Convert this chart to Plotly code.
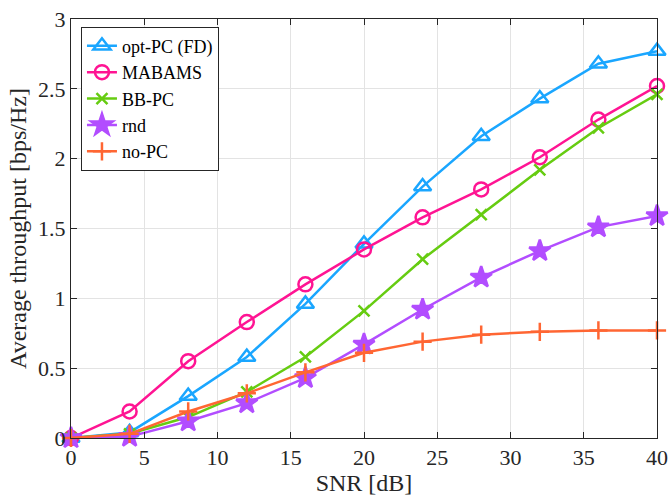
import plotly.graph_objects as go

snr = [0, 4, 8, 12, 16, 20, 24, 28, 32, 36, 40]
opt_pc = [0.0, 0.04, 0.30, 0.58, 0.96, 1.39, 1.80, 2.16, 2.43, 2.68, 2.77]
mabams = [0.0, 0.19, 0.55, 0.83, 1.10, 1.35, 1.58, 1.78, 2.01, 2.28, 2.52]
bb_pc = [0.0, 0.03, 0.15, 0.33, 0.58, 0.91, 1.28, 1.60, 1.92, 2.22, 2.46]
rnd = [0.0, 0.01, 0.12, 0.25, 0.43, 0.67, 0.92, 1.15, 1.34, 1.51, 1.59]
no_pc = [0.0, 0.03, 0.19, 0.32, 0.47, 0.61, 0.69, 0.74, 0.76, 0.77, 0.77]

series = [
    ("opt-PC (FD)", opt_pc, "#1AA6FF", "triangle-up-open", 15),
    ("MABAMS", mabams, "#FF1493", "circle-open", 14),
    ("BB-PC", bb_pc, "#66CC11", "x-thin-open", 11),
    ("rnd", rnd, "#B24DFF", "star", 16),
    ("no-PC", no_pc, "#FF6633", "cross-thin-open", 13),
]

fig = go.Figure()
for name, vals, color, sym, sz in series:
    fig.add_trace(go.Scatter(
        x=snr, y=vals, name=name, mode="lines+markers",
        line=dict(color=color, width=2.5),
        marker=dict(symbol=sym, size=sz, color=color,
                    line=dict(color=color, width=2.5)),
        cliponaxis=False,
    ))

axis_common = dict(
    showline=True, linecolor="#262626", linewidth=1, mirror="ticks",
    ticks="inside", ticklen=6, tickcolor="#262626",
    showgrid=True, gridcolor="#E3E3E3", gridwidth=1,
    zeroline=False, automargin=False,
    tickfont=dict(family="Liberation Serif", size=22, color="#262626"),
    title_font=dict(family="Liberation Serif", size=24, color="#262626"),
)

fig.update_layout(
    width=670, height=499,
    margin=dict(l=71, r=13, t=19, b=61),
    paper_bgcolor="white", plot_bgcolor="white",
    font=dict(family="Liberation Serif", size=20, color="#262626"),
    xaxis=dict(range=[0, 40], dtick=5, tick0=0,
               title=dict(text="SNR [dB]", standoff=4), **axis_common),
    yaxis=dict(range=[0, 3], dtick=0.5, tick0=0,
               title=dict(text="Average throughput [bps/Hz]", standoff=4), **axis_common),
    legend=dict(x=0.017, y=0.982, xanchor="left", yanchor="top",
                bgcolor="white", bordercolor="#262626", borderwidth=1,
                font=dict(family="Liberation Serif", size=18, color="black"),
                tracegroupgap=0, itemwidth=30),
    showlegend=True,
)

fig.write_html(
    "out.html",
    config={"displayModeBar": False},
    post_script="document.body.style.margin='0';document.body.style.padding='0';",
)
